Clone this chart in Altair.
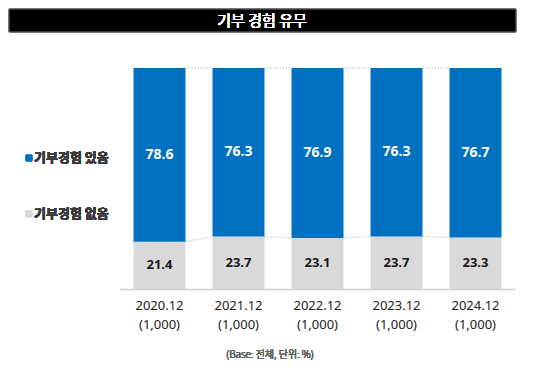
import json
import altair as alt
import pandas as pd

# ---- data ----
years = ["2020.12", "2021.12", "2022.12", "2023.12", "2024.12"]
bases = ["(1,000)", "(1,000)", "(1,000)", "(1,000)", "(1,000)"]
yes_vals = [78.6, 76.3, 76.9, 76.3, 76.7]
no_vals = [21.4, 23.7, 23.1, 23.7, 23.3]
series = ["기부경험 있음", "기부경험 없음"]
colors = ["#0070C0", "#D9D9D9"]
title_text = "기부 경험 유무"
note_text = "(Base: 전체, 단위: %)"

rows = []
for i, yr in enumerate(years):
    rows.append(dict(cat=yr, seg=series[1], lo=0.0, hi=no_vals[i], val=no_vals[i],
                     mid=no_vals[i] / 2))
    rows.append(dict(cat=yr, seg=series[0], lo=no_vals[i], hi=no_vals[i] + yes_vals[i],
                     val=yes_vals[i], mid=no_vals[i] + yes_vals[i] / 2))
df = pd.DataFrame(rows)

conn = []
for i in range(len(years) - 1):
    conn.append(dict(cat=years[i], nxt=years[i + 1],
                     y1=no_vals[i] + yes_vals[i], y2=no_vals[i + 1] + yes_vals[i + 1]))
    conn.append(dict(cat=years[i], nxt=years[i + 1], y1=no_vals[i], y2=no_vals[i + 1]))
cdf = pd.DataFrame(conn)

W, H = 395, 221
BAR = 52
label_expr = ("[datum.label, " + json.dumps(bases) + "[indexof(" + json.dumps(years)
              + ", datum.label)]]")

xscale = alt.Scale(domain=years, paddingInner=0.34, paddingOuter=0.17)
yscale = alt.Scale(domain=[0, 100], nice=False)

xaxis = alt.Axis(title=None, labelAngle=0, ticks=False, labelFontSize=13,
                 labelColor="#222222", labelFont="Noto Sans", labelPadding=10,
                 labelLineHeight=19, domainColor="#D0D0D0", domainWidth=1.5,
                 labelExpr=label_expr)

base = alt.Chart(df)

bars = base.mark_bar(size=BAR).encode(
    x=alt.X("cat:N", scale=xscale, axis=xaxis),
    y=alt.Y("lo:Q", scale=yscale, axis=None),
    y2="hi:Q",
    color=alt.Color("seg:N", scale=alt.Scale(domain=series, range=colors), legend=None),
)

labels_yes = base.transform_filter(alt.datum.seg == series[0]).mark_text(
    font="Open Sans", fontWeight="bold", fontSize=14, color="white"
).encode(x="cat:N", y="mid:Q", text=alt.Text("val:Q", format=".1f"))

labels_no = base.transform_filter(alt.datum.seg == series[1]).mark_text(
    font="Open Sans", fontWeight="bold", fontSize=13, color="#1a1a1a"
).encode(x="cat:N", y="mid:Q", text=alt.Text("val:Q", format=".1f"))

connectors = alt.Chart(cdf).mark_rule(
    color="#BFBFBF", strokeDash=[1.5, 1.5], strokeWidth=1,
    xOffset=BAR / 2, x2Offset=-BAR / 2
).encode(
    x="cat:N",
    x2="nxt",
    y="y1:Q",
    y2="y2:Q",
)

# title bar
title_bg = alt.Chart(df).mark_rect(color="black", stroke="#777777", strokeWidth=1).encode(
    x=alt.value(-111), x2=alt.value(396), y=alt.value(-59), y2=alt.value(-36)
)
title = alt.Chart(df).mark_text(text=title_text, font="Noto Sans CJK KR", fontSize=15,
                                fontWeight=400, color="white").encode(
    x=alt.value(142), y=alt.value(-47)
)

# legend
leg_sq1 = alt.Chart(df).mark_square(size=40, color=colors[0], opacity=1).encode(
    x=alt.value(-91), y=alt.value(90))
leg_tx1 = alt.Chart(df).mark_text(text=series[0], align="left", font="Noto Sans CJK KR",
                                  fontSize=13, fontWeight="bold", color="#3a3a3a").encode(
    x=alt.value(-86), y=alt.value(90))
leg_sq2 = alt.Chart(df).mark_square(size=40, color=colors[1], opacity=1).encode(
    x=alt.value(-91), y=alt.value(146))
leg_tx2 = alt.Chart(df).mark_text(text=series[1], align="left", font="Noto Sans CJK KR",
                                  fontSize=13, fontWeight="bold", color="#3a3a3a").encode(
    x=alt.value(-86), y=alt.value(146))

note = alt.Chart(df).mark_text(text=note_text, font="Noto Sans CJK KR", fontSize=10,
                               fontWeight=300, color="#666666").encode(
    x=alt.value(150), y=alt.value(287))

chart = alt.layer(
    bars, connectors, labels_yes, labels_no,
    title_bg, title, leg_sq1, leg_tx1, leg_sq2, leg_tx2, note
).properties(
    width=W, height=H,
    autosize=alt.AutoSizeParams(type="none"),
    padding={"left": 112, "top": 60, "right": 19, "bottom": 80},
).configure_view(stroke=None)

chart.save("out.html", embed_options={"renderer": "svg", "actions": False})
